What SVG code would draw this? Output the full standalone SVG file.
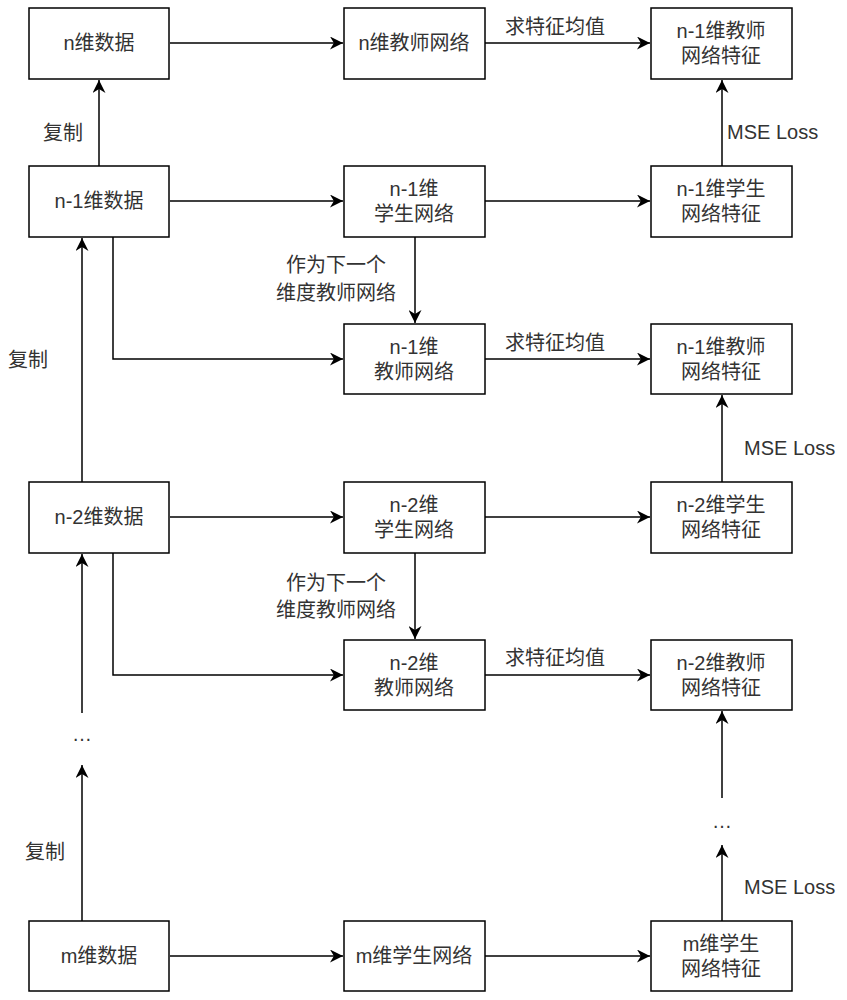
<svg xmlns="http://www.w3.org/2000/svg" width="847" height="1000" viewBox="0 0 847 1000">
<style>
.box{fill:#fff;stroke:#000;stroke-width:1.5}
.t{font-family:"Liberation Sans","Noto Sans CJK SC",sans-serif;font-size:20px;fill:#333;text-anchor:middle}
.l{font-family:"Liberation Sans","Noto Sans CJK SC",sans-serif;font-size:20px;fill:#333}
.c{fill:none;stroke:#000;stroke-width:1.5}
</style>
<defs>
<marker id="ah" markerWidth="13" markerHeight="13" refX="10" refY="5" orient="auto" markerUnits="userSpaceOnUse" viewBox="0 0 10 10">
<path d="M0,0 L10,5 L0,10 L3,5 z" fill="#000"/>
</marker>
</defs>
<rect width="847" height="1000" fill="#fff"/>
<g id="connectors">
<path class="c" d="M170,43 H343" marker-end="url(#ah)"/>
<path class="c" d="M485,43 H650" marker-end="url(#ah)"/>
<path class="c" d="M170,201 H343" marker-end="url(#ah)"/>
<path class="c" d="M485,201 H650" marker-end="url(#ah)"/>
<path class="c" d="M722,166 V80" marker-end="url(#ah)"/>
<path class="c" d="M99,166 V80" marker-end="url(#ah)"/>
<path class="c" d="M415,237 V323" marker-end="url(#ah)"/>
<path class="c" d="M113,237 V359 H343" marker-end="url(#ah)"/>
<path class="c" d="M485,359 H650" marker-end="url(#ah)"/>
<path class="c" d="M82,482 V238" marker-end="url(#ah)"/>
<path class="c" d="M170,517 H343" marker-end="url(#ah)"/>
<path class="c" d="M485,517 H650" marker-end="url(#ah)"/>
<path class="c" d="M722,482 V395" marker-end="url(#ah)"/>
<path class="c" d="M415,553 V639" marker-end="url(#ah)"/>
<path class="c" d="M113,553 V675 H343" marker-end="url(#ah)"/>
<path class="c" d="M485,675 H650" marker-end="url(#ah)"/>
<path class="c" d="M82,713 V554" marker-end="url(#ah)" stroke="#333"/>
<path class="c" d="M82,921 V765" marker-end="url(#ah)"/>
<path class="c" d="M722,798 V711" marker-end="url(#ah)"/>
<path class="c" d="M722,921 V845" marker-end="url(#ah)"/>
<path class="c" d="M170,956 H343" marker-end="url(#ah)"/>
<path class="c" d="M485,956 H650" marker-end="url(#ah)"/>
</g>
<g id="labels">
<text class="l" x="43" y="140">复制</text>
<text class="l" x="8" y="367">复制</text>
<text class="l" x="25" y="859">复制</text>
<text class="t" x="555" y="34">求特征均值</text>
<text class="t" x="555" y="350">求特征均值</text>
<text class="t" x="555" y="665">求特征均值</text>
<text class="l" x="727" y="139">MSE Loss</text>
<text class="l" x="744" y="455">MSE Loss</text>
<text class="l" x="744" y="894">MSE Loss</text>
<text class="t" x="336" y="272">作为下一个</text>
<text class="t" x="336" y="300">维度教师网络</text>
<text class="t" x="336" y="590">作为下一个</text>
<text class="t" x="336" y="617">维度教师网络</text>
<text class="t" x="82" y="741">…</text>
<text class="t" x="722" y="828">…</text>
</g>
<g id="n-data"><rect class="box" x="29" y="8" width="140" height="71"/><text class="t" x="99" y="50">n维数据</text></g>
<g id="n-teacher"><rect class="box" x="344" y="8" width="141" height="71"/><text class="t" x="414" y="50">n维教师网络</text></g>
<g id="n1-teacher-feat"><rect class="box" x="651" y="8" width="141" height="71"/><text class="t" x="721" y="38">n-1维教师</text><text class="t" x="721" y="63">网络特征</text></g>
<g id="n1-data"><rect class="box" x="29" y="166" width="140" height="71"/><text class="t" x="99" y="208">n-1维数据</text></g>
<g id="n1-student"><rect class="box" x="344" y="166" width="141" height="71"/><text class="t" x="414" y="196">n-1维</text><text class="t" x="414" y="221">学生网络</text></g>
<g id="n1-student-feat"><rect class="box" x="651" y="166" width="141" height="71"/><text class="t" x="721" y="196">n-1维学生</text><text class="t" x="721" y="221">网络特征</text></g>
<g id="n1-teacher"><rect class="box" x="344" y="324" width="141" height="70"/><text class="t" x="414" y="354">n-1维</text><text class="t" x="414" y="379">教师网络</text></g>
<g id="n1-teacher-feat2"><rect class="box" x="651" y="324" width="141" height="70"/><text class="t" x="721" y="354">n-1维教师</text><text class="t" x="721" y="379">网络特征</text></g>
<g id="n2-data"><rect class="box" x="29" y="482" width="140" height="71"/><text class="t" x="99" y="524">n-2维数据</text></g>
<g id="n2-student"><rect class="box" x="344" y="482" width="141" height="71"/><text class="t" x="414" y="512">n-2维</text><text class="t" x="414" y="537">学生网络</text></g>
<g id="n2-student-feat"><rect class="box" x="651" y="482" width="141" height="71"/><text class="t" x="721" y="512">n-2维学生</text><text class="t" x="721" y="537">网络特征</text></g>
<g id="n2-teacher"><rect class="box" x="344" y="640" width="141" height="70"/><text class="t" x="414" y="670">n-2维</text><text class="t" x="414" y="695">教师网络</text></g>
<g id="n2-teacher-feat"><rect class="box" x="651" y="640" width="141" height="70"/><text class="t" x="721" y="670">n-2维教师</text><text class="t" x="721" y="695">网络特征</text></g>
<g id="m-data"><rect class="box" x="29" y="921" width="140" height="70"/><text class="t" x="99" y="963">m维数据</text></g>
<g id="m-student"><rect class="box" x="344" y="921" width="141" height="70"/><text class="t" x="414" y="963">m维学生网络</text></g>
<g id="m-student-feat"><rect class="box" x="651" y="921" width="141" height="70"/><text class="t" x="721" y="951">m维学生</text><text class="t" x="721" y="976">网络特征</text></g>
</svg>
